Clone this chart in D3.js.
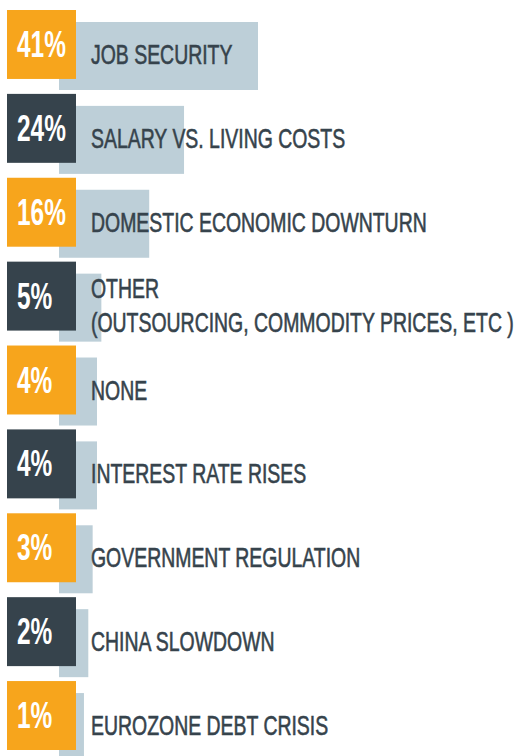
<!DOCTYPE html>
<html>
<head>
<meta charset="utf-8">
<script src="https://cdn.jsdelivr.net/npm/d3@7"></script>
<style>
  body { margin: 0; background: #fff; }
  svg { display: block; }
</style>
</head>
<body>
<div id="chart"></div>
<script>
// survey answers, top to bottom
var categories = ["Job security", "Salary vs. living costs", "Domestic economic downturn",
  "Other", "None", "Interest rate rises", "Government regulation", "China slowdown",
  "Eurozone debt crisis"];
var values = [41, 24, 16, 5, 4, 4, 3, 2, 1];
var labelLines = [
  ["JOB SECURITY"],
  ["SALARY VS. LIVING COSTS"],
  ["DOMESTIC ECONOMIC DOWNTURN"],
  ["OTHER", "(OUTSOURCING, COMMODITY PRICES, ETC )"],
  ["NONE"],
  ["INTEREST RATE RISES"],
  ["GOVERNMENT REGULATION"],
  ["CHINA SLOWDOWN"],
  ["EUROZONE DEBT CRISIS"]
];

var width = 516, height = 756;
var orange = "#f7a51c", dark = "#36434c", barColor = "#bdcfd8";

var svg = d3.select("#chart").append("svg")
  .attr("width", width)
  .attr("height", height);

var y = d3.scaleBand()
  .domain(categories)
  .range([10, 750])
  .paddingInner(0.178)
  .paddingOuter(0);

// bar length grows with the share
var x = d3.scaleLinear()
  .domain([0, 41])
  .range([20.6, 199]);

var rows = svg.selectAll(".row")
  .data(categories)
  .enter().append("g")
    .attr("class", "row")
    .attr("transform", function(d){ return "translate(0," + y(d) + ")"; });

rows.append("rect")
  .attr("x", 59)
  .attr("y", 12)
  .attr("width", function(d, i){ return x(values[i]); })
  .attr("height", 68)
  .attr("fill", barColor);

rows.append("rect")
  .attr("x", 7)
  .attr("y", 0)
  .attr("width", 69)
  .attr("height", y.bandwidth())
  .attr("fill", function(d, i){ return i % 2 == 0 ? orange : dark; });

// no condensed face installed, so squeeze the text horizontally
rows.append("text")
  .attr("transform", "translate(17,47) scale(0.66,1)")
  .attr("font-family", "'Liberation Sans', sans-serif")
  .attr("font-weight", "bold")
  .attr("font-size", 37)
  .attr("fill", "#fff")
  .text(function(d, i){ return values[i] + "%"; });

var labels = rows.append("text")
  .attr("transform", function(d, i){
    return labelLines[i].length > 1 ? "translate(91,36) scale(0.72,1)" : "translate(91,54) scale(0.72,1)";
  })
  .attr("font-family", "'Liberation Sans', sans-serif")
  .attr("font-size", 27)
  .attr("fill", dark)
  .attr("stroke", dark)
  .attr("stroke-width", 0.6);

labels.selectAll("tspan")
  .data(function(d, i){ return labelLines[i]; })
  .enter().append("tspan")
    .attr("x", 0)
    .attr("y", function(d, j){ return j * 34; })
    .text(function(d){ return d; });
</script>
</body>
</html>
